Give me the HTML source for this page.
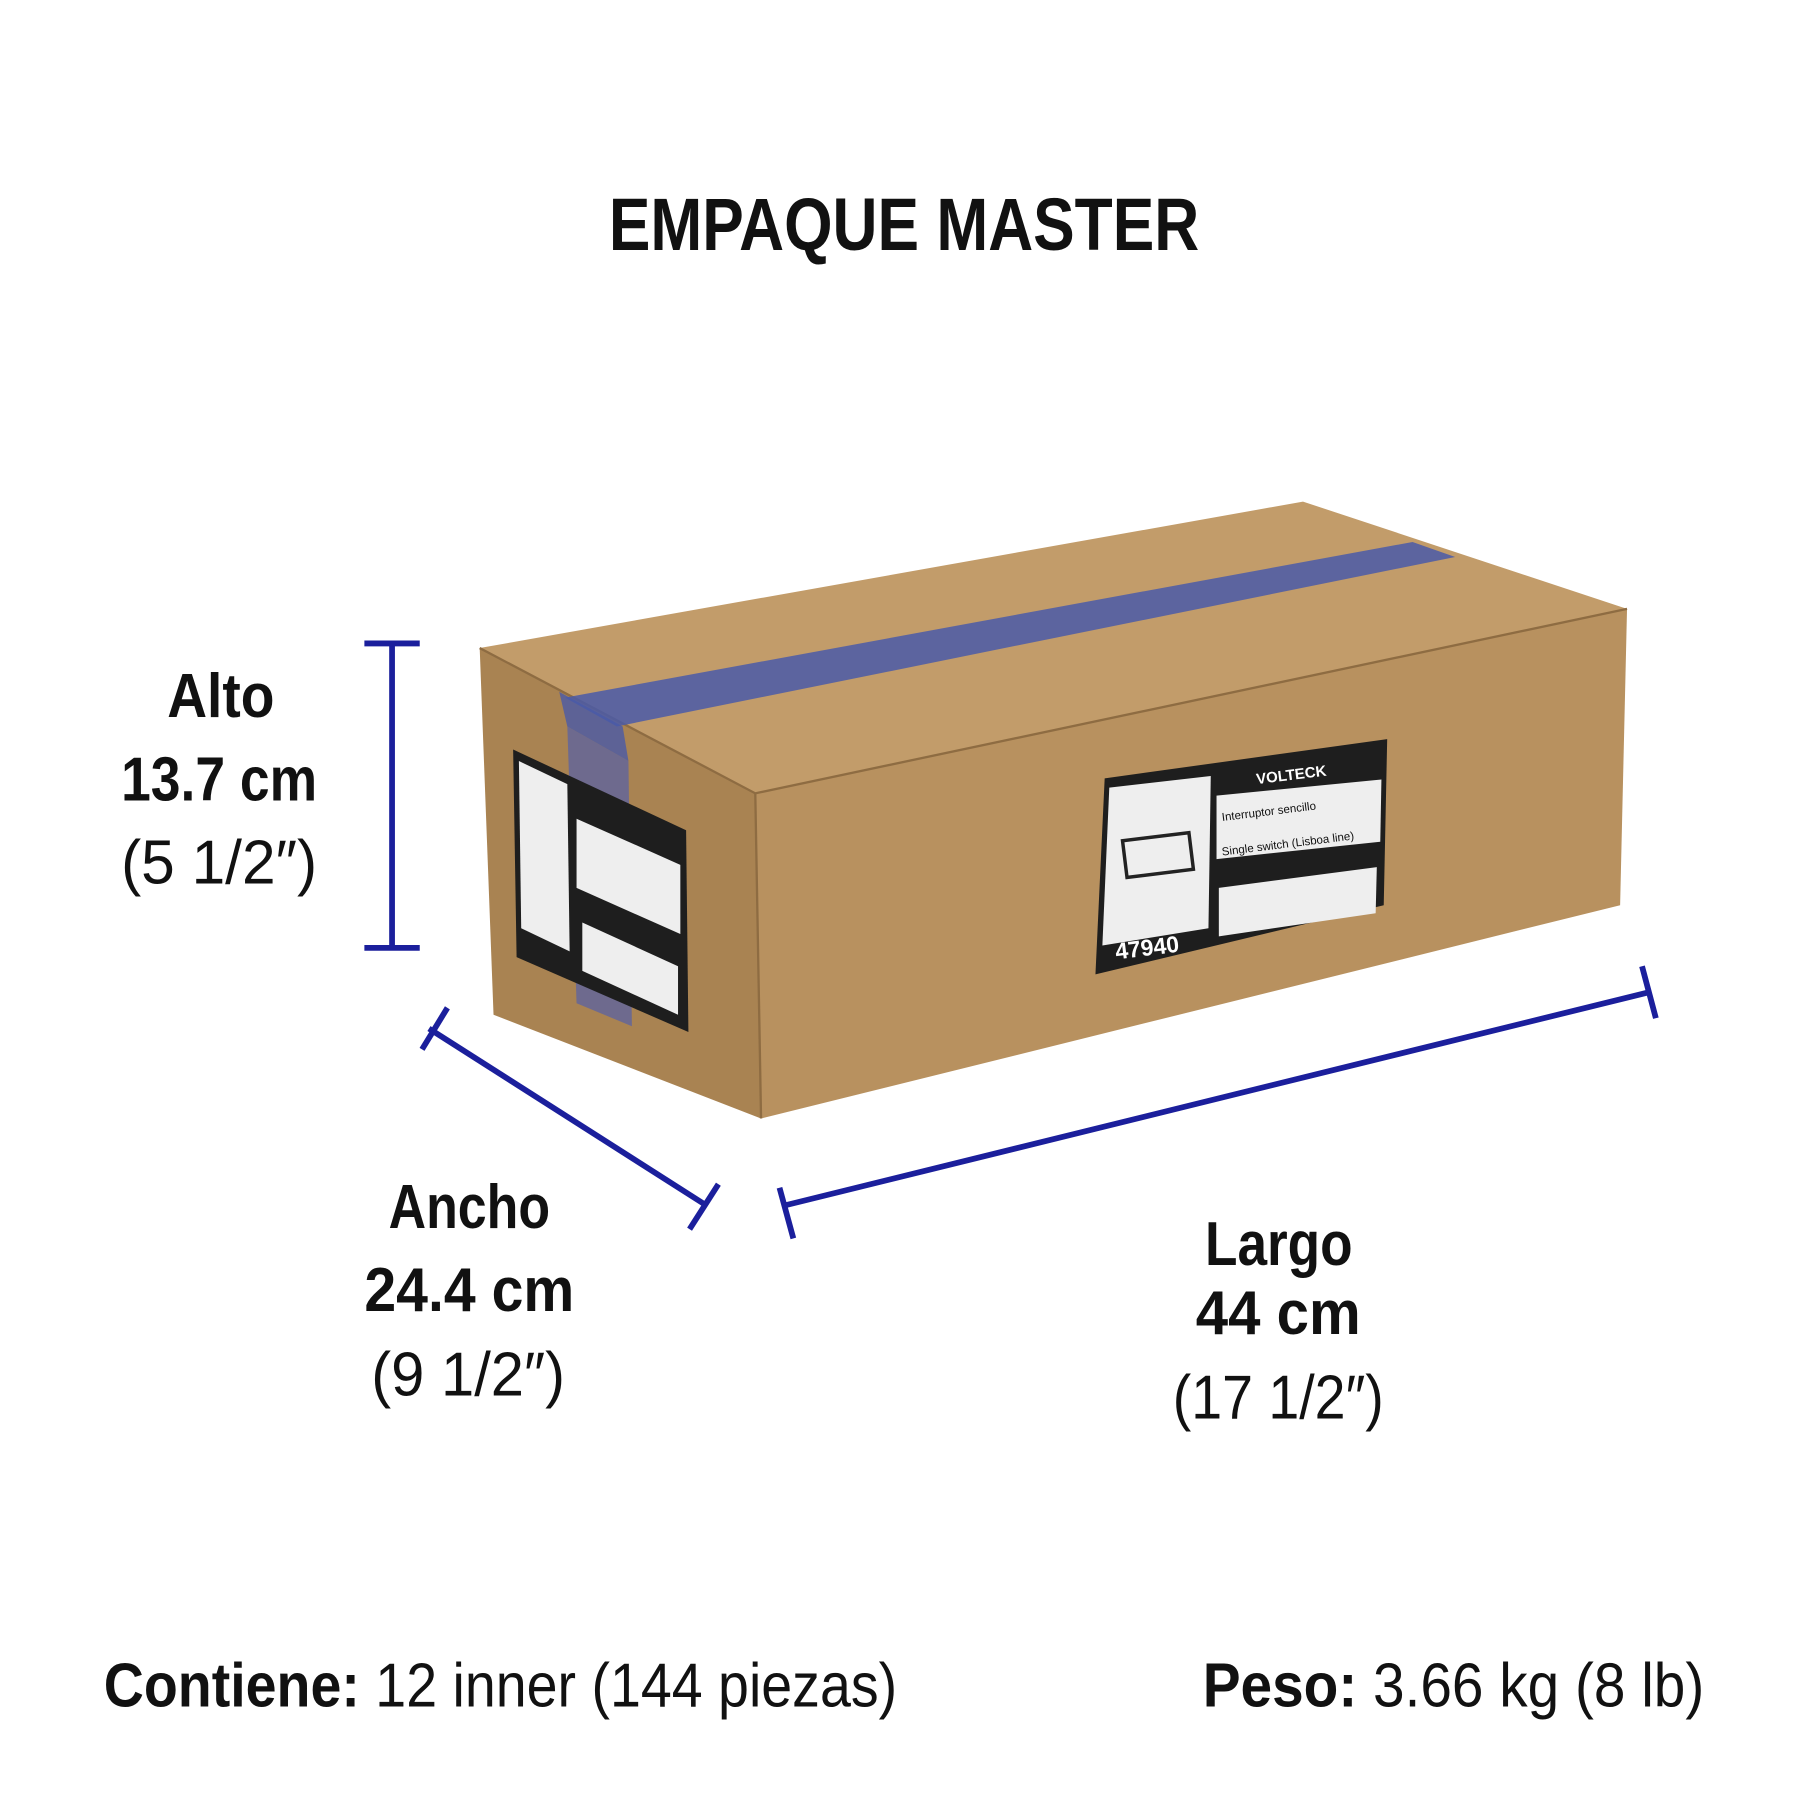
<!DOCTYPE html>
<html><head><meta charset="utf-8"><style>
html,body{margin:0;padding:0;background:#fff;}
svg{display:block;}
text{font-family:"Liberation Sans",sans-serif;fill:#111;}
</style></head><body>
<svg width="1800" height="1800" viewBox="0 0 1561 1561" xmlns="http://www.w3.org/2000/svg">
<text x="528" y="217" font-size="64" font-weight="bold" textLength="512" lengthAdjust="spacingAndGlyphs">EMPAQUE MASTER</text>

<!-- box -->
<polygon points="416,562 1130,435 1411,528 655,688" fill="#c29c6a"/>
<polygon points="416,562 655,688 660,970 428,880" fill="#a98352"/>
<polygon points="655,688 1411,528 1405,785 660,970" fill="#b8915f"/>
<polyline points="416,562 655,688 1411,528" fill="none" stroke="#8e6c42" stroke-width="2"/>
<line x1="655" y1="688" x2="660" y2="970" stroke="#8e6c42" stroke-width="2"/>
<!-- tape -->
<polygon points="490,605 1225,470 1262,483 535,630" fill="#4a5aa8" opacity="0.85"/>
<polygon points="485,600 540,630 545,660 492,630" fill="#4a5aa8" opacity="0.8"/>
<polygon points="492,630 545,660 548,890 500,870" fill="#5560a8" opacity="0.7"/>
<!-- front label -->
<polygon points="958,675 1203,641 1200,785 950,845" fill="#1e1e1e"/>
<polygon points="962,683 1050,673 1048,805 956,820" fill="#eee"/>
<rect x="975" y="726" width="58" height="32" fill="none" stroke="#222" stroke-width="3" transform="rotate(-7 1000 740)"/>
<polygon points="1055,690 1198,676 1197,730 1055,745" fill="#eee"/>
<polygon points="1057,770 1194,752 1193,792 1057,812" fill="#eee"/>
<text x="1090" y="680" font-size="13" font-weight="bold" style="fill:#fff" transform="rotate(-7 1090 680)">VOLTECK</text>
<text x="968" y="832" font-size="20" font-weight="bold" style="fill:#fff" transform="rotate(-7 968 832)">47940</text>
<text x="1060" y="712" font-size="10" transform="rotate(-7 1060 712)">Interruptor sencillo</text>
<text x="1060" y="742" font-size="10" transform="rotate(-7 1060 742)">Single switch (Lisboa line)</text>
<!-- side label -->
<polygon points="445,650 595,720 597,895 448,830" fill="#1e1e1e"/>
<polygon points="450,660 492,680 494,825 452,805" fill="#eee"/>
<polygon points="500,710 590,750 590,810 500,770" fill="#eee"/>
<polygon points="505,800 588,838 588,880 505,842" fill="#eee"/>

<!-- dimension lines -->
<g stroke="#1b1f9c" stroke-width="5" fill="none">
<line x1="340" y1="558" x2="340" y2="822"/>
<line x1="316" y1="558" x2="364" y2="558"/>
<line x1="316" y1="822" x2="364" y2="822"/>
<line x1="372" y1="892" x2="612" y2="1045"/>
<line x1="366" y1="910" x2="388" y2="874"/>
<line x1="598" y1="1066" x2="623" y2="1027"/>
<line x1="682" y1="1045" x2="1432" y2="860"/>
<line x1="676" y1="1030" x2="688" y2="1074"/>
<line x1="1424" y1="838" x2="1436" y2="883"/>
</g>

<g font-weight="bold" font-size="54" lengthAdjust="spacingAndGlyphs">
<text x="145" y="622" textLength="93" lengthAdjust="spacingAndGlyphs">Alto</text>
<text x="105" y="694" textLength="170" lengthAdjust="spacingAndGlyphs">13.7 cm</text>
<text x="337" y="1065" textLength="140" lengthAdjust="spacingAndGlyphs">Ancho</text>
<text x="316" y="1137" textLength="182" lengthAdjust="spacingAndGlyphs">24.4 cm</text>
<text x="1045" y="1097" textLength="128" lengthAdjust="spacingAndGlyphs">Largo</text>
<text x="1037" y="1157" textLength="143" lengthAdjust="spacingAndGlyphs">44 cm</text>
</g>
<g font-size="54">
<text x="105" y="766" textLength="170" lengthAdjust="spacingAndGlyphs">(5 1/2″)</text>
<text x="322" y="1210" textLength="168" lengthAdjust="spacingAndGlyphs">(9 1/2″)</text>
<text x="1017" y="1230" textLength="183" lengthAdjust="spacingAndGlyphs">(17 1/2″)</text>
</g>
<text x="90" y="1480" font-size="54" textLength="688" lengthAdjust="spacingAndGlyphs"><tspan font-weight="bold">Contiene:</tspan> 12 inner (144 piezas)</text>
<text x="1043" y="1480" font-size="54" textLength="435" lengthAdjust="spacingAndGlyphs"><tspan font-weight="bold">Peso:</tspan> 3.66 kg (8 lb)</text>
</svg>
</body></html>
